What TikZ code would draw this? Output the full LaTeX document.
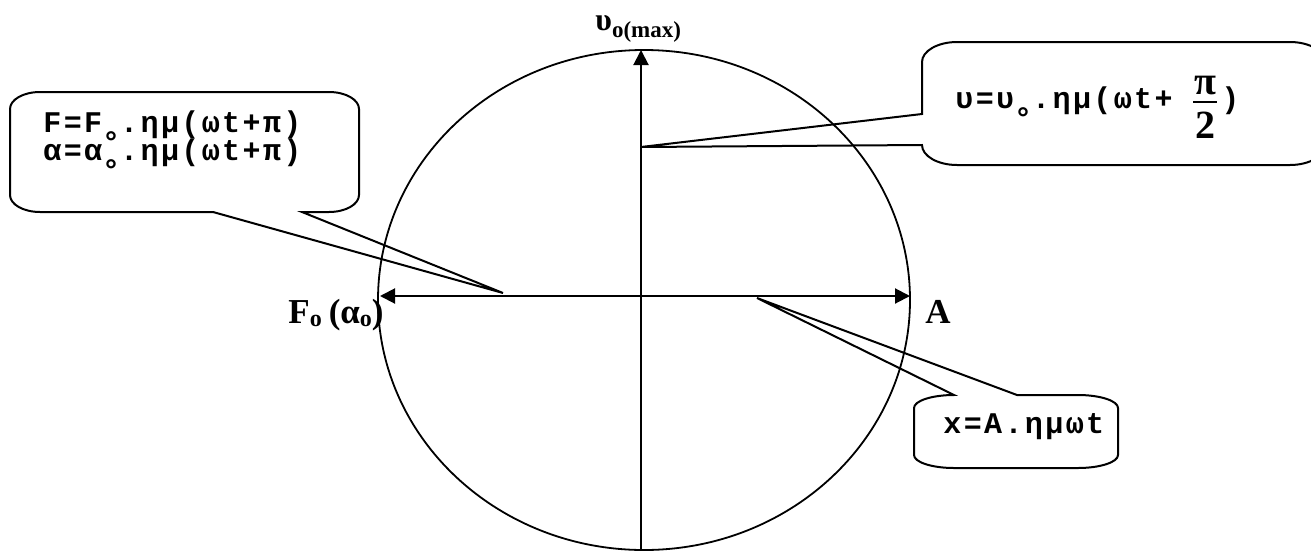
\documentclass[tikz,border=0pt]{standalone}
\usepackage{fontspec}
\setmainfont{Liberation Serif}
\newfontfamily\cmono[LetterSpace=8, BoldFont={Liberation Mono Bold}]{Liberation Mono}
\usetikzlibrary{arrows.meta}
\newcommand{\tightlines}{\lineskiplimit=-20pt\relax\lineskip=0pt\relax}
\tikzset{
  axisline/.style={line width=1pt},
  circline/.style={line width=0.9pt},
  calloutline/.style={line width=1pt, line join=miter},
  tiparrow/.style={-{Triangle[length=7.5pt,width=7.5pt]}},
  bothtips/.style={{Triangle[length=7.5pt,width=7.5pt]}-{Triangle[length=7.5pt,width=7.5pt]}},
  monotext/.style={font=\fontsize{15}{14}\cmono\bfseries\selectfont\tightlines, inner sep=0pt, anchor=base west},
  serlabel/.style={font=\bfseries\fontsize{17.5}{18}\selectfont, inner sep=0pt, anchor=base west},
  fractext/.style={font=\bfseries\fontsize{20}{20}\selectfont, inner sep=0pt}
}
\newcommand{\ringsub}{\smash{\raisebox{-10pt}{°}}}
\begin{document}
\begin{tikzpicture}[x=0.5pt,y=-0.5pt]
\clip (0,0) rectangle (1311,552);
% circle and axes
\draw[circline] (644,300) ellipse [x radius=266, y radius=250];
\coordinate (vbot) at (641,550);
\coordinate (vtop) at (641,50);
\coordinate (hleft) at (380,296);
\coordinate (hright) at (910,296);
\draw[axisline, tiparrow] (vbot) -- (vtop);
\draw[axisline, bothtips] (hleft) -- (hright);
% labels
\node[serlabel, font=\bfseries] (vlabel) at (595,30) {{\fontsize{16}{16}\selectfont υ}\raisebox{-3.5pt}{\fontsize{11.5}{12}\selectfont o(max)}};
\node[serlabel] (flabel) at (288,323) {F\raisebox{-1.5pt}{\fontsize{12}{12}\selectfont o}\hspace{3.5pt}(α\raisebox{-1.5pt}{\fontsize{12}{12}\selectfont o})};
\node[serlabel] (alabel) at (925,323) {A};
% tips of callouts
\coordinate (tipL) at (503,293);
\coordinate (tipR) at (641,147);
\coordinate (tipX) at (757,298);
% left callout
\draw[calloutline] (40,92) -- (329,92) .. controls (345.6,92) and (359,99.6) .. (359,109)
  -- (359,195) .. controls (359,204.4) and (345.6,212) .. (329,212)
  -- (302,212) -- (tipL) -- (213,212)
  -- (40,212) .. controls (23.4,212) and (10,204.4) .. (10,195)
  -- (10,109) .. controls (10,99.6) and (23.4,92) .. (40,92) -- cycle;
\node[monotext, align=left] (eqF) at (43,160) {F=F\ringsub.ημ(ωt+π)\\α=α\ringsub.ημ(ωt+π)};
% top-right callout
\draw[calloutline] (957,42) -- (1290,42) .. controls (1309.3,42) and (1325,51) .. (1325,62)
  -- (1325,145) .. controls (1325,156) and (1309.3,165) .. (1290,165)
  -- (957,165) .. controls (937.7,165) and (922,156) .. (922,145)
  -- (tipR) -- (922,114)
  -- (922,62) .. controls (922,51) and (937.7,42) .. (957,42) -- cycle;
\node[monotext] (eqV) at (955,108) {υ=υ\ringsub.ημ(ωt+};
\node[fractext] (fnum) at (1205,86) {π};
\node[fractext] (fden) at (1205,125) {2};
\coordinate (barL) at (1193,102);
\coordinate (barR) at (1217,102);
\draw[line width=0.6pt] (barL) -- (barR);
\node[monotext] (eqVclose) at (1221,108) {)};
% bottom-right callout
\draw[calloutline] (954,395) -- (tipX) -- (1017,395)
  -- (1078,395) .. controls (1100,395) and (1118,400.8) .. (1118,408)
  -- (1118,455) .. controls (1118,462.2) and (1100,468) .. (1078,468)
  -- (954,468) .. controls (932,468) and (914,462.2) .. (914,455)
  -- (914,408) .. controls (914,400.8) and (932,395) .. (954,395) -- cycle;
\node[monotext] (eqX) at (943,433) {x=A.ημωt};
\end{tikzpicture}
\end{document}
